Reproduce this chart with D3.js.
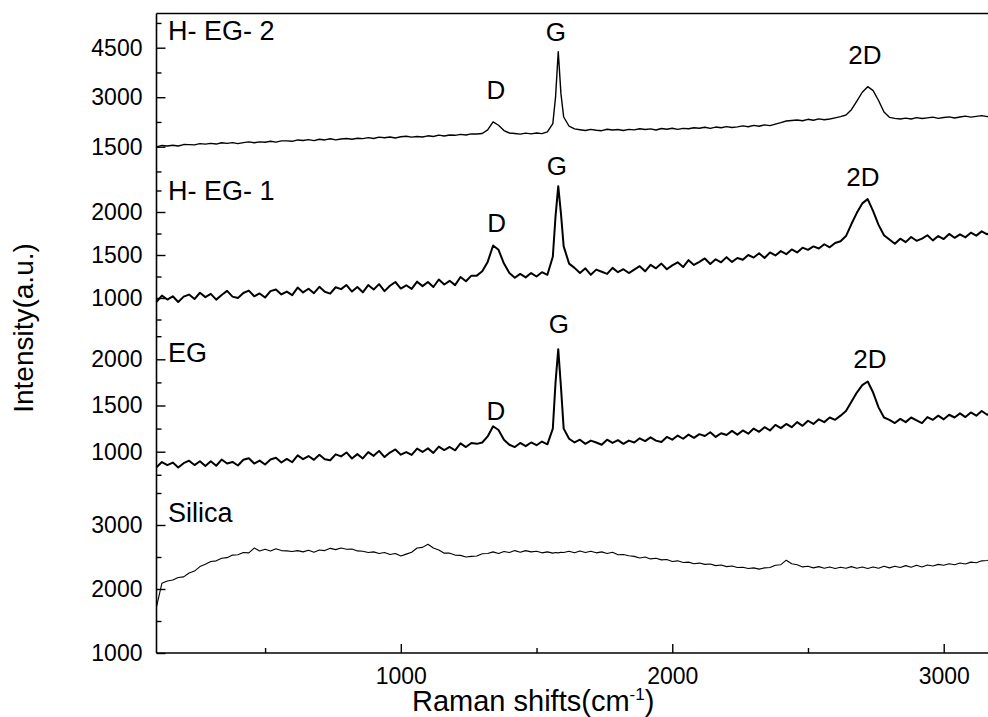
<!DOCTYPE html>
<html>
<head>
<meta charset="utf-8">
<script src="https://cdn.jsdelivr.net/npm/d3@7"></script>
<style>
	body { margin: 0; background: #fff; }
	svg { display: block; font-family: 'Liberation Sans', Arial, sans-serif; }
</style>
</head>
<body>
<div id="chart"></div>
<script>
// Raman shift (cm-1) sample positions, shared by all four spectra
const shifts = [
	100, 120, 140, 160, 180, 200, 220, 240, 260, 280,
	300, 320, 340, 360, 380, 400, 420, 440, 460, 480,
	500, 520, 540, 560, 580, 600, 620, 640, 660, 680,
	700, 720, 740, 760, 780, 800, 820, 840, 860, 880,
	900, 920, 940, 960, 980, 1000, 1020, 1040, 1060, 1080,
	1100, 1120, 1140, 1160, 1180, 1200, 1220, 1240, 1260, 1280,
	1300, 1320, 1340, 1360, 1380, 1400, 1420, 1440, 1460, 1480,
	1500, 1520, 1540, 1560, 1570, 1580, 1590, 1600, 1620, 1640,
	1660, 1680, 1700, 1720, 1740, 1760, 1780, 1800, 1820, 1840,
	1860, 1880, 1900, 1920, 1940, 1960, 1980, 2000, 2020, 2040,
	2060, 2080, 2100, 2120, 2140, 2160, 2180, 2200, 2220, 2240,
	2260, 2280, 2300, 2320, 2340, 2360, 2380, 2400, 2420, 2440,
	2460, 2480, 2500, 2520, 2540, 2560, 2580, 2600, 2620, 2640,
	2660, 2680, 2700, 2720, 2740, 2760, 2780, 2800, 2820, 2840,
	2860, 2880, 2900, 2920, 2940, 2960, 2980, 3000, 3020, 3040,
	3060, 3080, 3100, 3120, 3140, 3160, 3180, 3200
];

const hEg2 = [
	1495, 1538, 1521, 1544, 1522, 1565, 1563, 1556, 1594, 1577,
	1600, 1580, 1620, 1600, 1625, 1595, 1625, 1645, 1620, 1645,
	1635, 1667, 1638, 1675, 1677, 1663, 1705, 1687, 1713, 1685,
	1725, 1705, 1740, 1705, 1735, 1750, 1725, 1755, 1745, 1775,
	1750, 1790, 1770, 1795, 1765, 1800, 1815, 1790, 1810, 1795,
	1830, 1810, 1850, 1825, 1855, 1845, 1875, 1855, 1890, 1885,
	1900, 2010, 2250, 2150, 1990, 1915, 1900, 1880, 1910, 1890,
	1915, 1895, 1950, 2200, 3000, 4380, 3100, 2400, 2120, 2040,
	2015, 1990, 2025, 2000, 1985, 2030, 2005, 2020, 1990, 2025,
	2010, 2045, 2020, 2040, 2005, 2050, 2030, 2060, 2025, 2055,
	2045, 2075, 2060, 2090, 2055, 2095, 2075, 2110, 2080, 2100,
	2130, 2105, 2145, 2120, 2160, 2140, 2185, 2230, 2280, 2295,
	2310, 2285, 2330, 2300, 2345, 2315, 2340, 2375, 2410, 2460,
	2620, 2880, 3150, 3320, 3200, 2900, 2550, 2390, 2360, 2340,
	2365, 2340, 2380, 2355, 2375, 2395, 2360, 2385, 2405, 2370,
	2400, 2425, 2395, 2420, 2440, 2410, 2450, 2430
];

const hEg1 = [
	955, 1028, 982, 1020, 953, 1016, 1040, 988, 1061, 1010,
	1048, 981, 1035, 1083, 1016, 1000, 1058, 1086, 1020, 1053,
	1006, 1080, 1098, 1041, 1075, 1033, 1121, 1065, 1108, 1056,
	1130, 1073, 1051, 1125, 1103, 1151, 1075, 1128, 1066, 1150,
	1098, 1161, 1080, 1143, 1186, 1110, 1148, 1106, 1190, 1138,
	1187, 1128, 1215, 1157, 1200, 1150, 1245, 1195, 1260, 1260,
	1310, 1420, 1610, 1560, 1400, 1290, 1235, 1280, 1240, 1290,
	1250, 1300, 1270, 1480, 1950, 2300, 1980, 1600, 1400, 1350,
	1290, 1345, 1270, 1330, 1305, 1280, 1350, 1300, 1335, 1290,
	1330, 1370, 1310, 1385, 1345, 1400, 1335, 1380, 1415, 1360,
	1440, 1385, 1420, 1460, 1395, 1450, 1415, 1475, 1420, 1465,
	1445, 1500, 1470, 1520, 1465, 1530, 1495, 1545, 1510, 1565,
	1530, 1585, 1560, 1600, 1575, 1625, 1590, 1640, 1660, 1720,
	1860, 1990, 2100, 2150, 2010, 1850, 1730, 1680, 1630, 1690,
	1650, 1710, 1665, 1690, 1730, 1670, 1720, 1685, 1745, 1700,
	1740, 1705, 1760, 1725, 1775, 1740, 1785, 1750
];

const eg = [
	831, 888, 855, 882, 829, 876, 903, 855, 897, 844,
	896, 848, 915, 872, 889, 851, 913, 930, 872, 904,
	861, 915, 934, 883, 922, 886, 960, 919, 953, 912,
	966, 919, 907, 971, 949, 992, 926, 974, 927, 996,
	955, 1009, 942, 991, 1024, 968, 996, 965, 1033, 997,
	1036, 987, 1055, 1018, 1051, 1015, 1090, 1050, 1095, 1085,
	1100, 1165, 1275, 1235, 1130, 1075, 1050, 1095, 1060, 1100,
	1070, 1110, 1080, 1250, 1750, 2110, 1700, 1250, 1140, 1100,
	1130, 1085, 1120, 1100, 1075, 1130, 1095, 1125, 1085, 1120,
	1100, 1145, 1115, 1155, 1120, 1105, 1160, 1130, 1175, 1140,
	1185, 1150, 1190, 1170, 1210, 1160, 1200, 1180, 1225, 1185,
	1230, 1195, 1250, 1215, 1265, 1230, 1290, 1255, 1300, 1265,
	1320, 1280, 1335, 1300, 1350, 1320, 1370, 1345, 1390, 1440,
	1540, 1640, 1720, 1760, 1640, 1480, 1370, 1345, 1310, 1355,
	1320, 1370, 1340, 1310, 1375, 1345, 1390, 1350, 1400, 1370,
	1415, 1375, 1425, 1390, 1440, 1400, 1430, 1410
];

const silica = [
	1720, 2090, 2125, 2140, 2180, 2190, 2250, 2280, 2350, 2385,
	2430, 2440, 2480, 2490, 2530, 2535, 2570, 2565, 2640, 2595,
	2620, 2595, 2630, 2600, 2595, 2585, 2600, 2580, 2605, 2575,
	2610, 2600, 2635, 2615, 2640, 2620, 2625, 2595, 2590, 2570,
	2580, 2555, 2570, 2540, 2555, 2515, 2545, 2575, 2640, 2650,
	2700, 2640, 2610, 2560, 2560, 2530, 2525, 2500, 2510, 2515,
	2550, 2555, 2580, 2555, 2585, 2570, 2600, 2575, 2600, 2580,
	2590, 2565, 2580, 2560, 2570, 2565, 2575, 2570, 2590, 2565,
	2595, 2570, 2590, 2565, 2580, 2555, 2575, 2535, 2540, 2520,
	2510, 2485, 2500, 2470, 2480, 2455, 2460, 2430, 2440, 2415,
	2420, 2395, 2405, 2385, 2390, 2365, 2375, 2350, 2360, 2335,
	2340, 2320, 2330, 2310, 2330, 2335, 2370, 2380, 2450, 2395,
	2380, 2345, 2355, 2330, 2350, 2325, 2345, 2320, 2340, 2325,
	2350, 2325, 2345, 2320, 2345, 2325, 2355, 2330, 2355, 2335,
	2365, 2340, 2370, 2345, 2375, 2360, 2385, 2370, 2395, 2380,
	2405, 2390, 2420, 2410, 2440, 2445, 2470, 2460
];

const sampleNames = ['H- EG- 2', 'H- EG- 1', 'EG', 'Silica'];

// tick values
const xMajor = [1000, 2000, 3000];
const xMinor = [500, 1500, 2500];
const hEg2Major = [1500, 3000, 4500];
const hEg2Minor = [750, 2250, 3750, 5250];
const hEg1Major = [1000, 1500, 2000];
const hEg1Minor = [750, 1250, 1750, 2250];
const egMajor = [1000, 1500, 2000];
const egMinor = [750, 1250, 1750, 2250];
const silicaMajor = [1000, 2000, 3000];
const silicaMinor = [1500, 2500, 3500];

// peak annotations: [label, shift, intensity of label baseline]
const hEg2Peaks = [['D', 1350, 2945], ['G', 1571, 4712], ['2D', 2710, 4006]];
const hEg1Peaks = [['D', 1353, 1771], ['G', 1575, 2430], ['2D', 2702, 2302]];
const egPeaks = [['D', 1350, 1343], ['G', 1582, 2285], ['2D', 2728, 1906]];

const width = 988;
const height = 717;
const plotLeft = 156.5;
const plotTop = 13.5;
const plotBottom = 653;

const svg = d3
	.select('#chart')
	.append('svg')
	.attr('width', width)
	.attr('height', height);

const x = d3.scaleLinear().domain([100, 3200]).range([plotLeft, 998]);

// each stacked layer has its own intensity scale
const layers = [
	{ name: sampleNames[0], values: hEg2, domain: [1500, 4500], range: [146.7, 47.7], major: hEg2Major, minor: hEg2Minor, nameY: 40, stroke: 1.4, peaks: hEg2Peaks },
	{ name: sampleNames[1], values: hEg1, domain: [1000, 2000], range: [298, 212], major: hEg1Major, minor: hEg1Minor, nameY: 200, stroke: 2, peaks: hEg1Peaks },
	{ name: sampleNames[2], values: eg, domain: [1000, 2000], range: [451.7, 359.3], major: egMajor, minor: egMinor, nameY: 361.5, stroke: 2, peaks: egPeaks },
	{ name: sampleNames[3], values: silica, domain: [1000, 3000], range: [653, 525], major: silicaMajor, minor: silicaMinor, nameY: 521.5, stroke: 1.1, peaks: [] }
];

function styleAxis(g) {
	g.select('.domain').remove();
	g.selectAll('line').attr('stroke', '#000').attr('stroke-width', 1.4);
	g.selectAll('text')
		.attr('fill', '#000')
		.attr('font-size', 23)
		.attr('font-family', "'Liberation Sans', Arial, sans-serif");
}

layers.forEach((layer) => {
	const y = d3.scaleLinear().domain(layer.domain).range(layer.range);

	svg.append('g')
		.attr('transform', `translate(${plotLeft},0)`)
		.call(d3.axisLeft(y).tickValues(layer.major).tickSize(-9).tickPadding(14).tickFormat(d3.format('d')))
		.call(styleAxis);

	svg.append('g')
		.attr('transform', `translate(${plotLeft},0)`)
		.call(d3.axisLeft(y).tickValues(layer.minor).tickSize(-5).tickFormat(''))
		.call(styleAxis);

	const line = d3
		.line()
		.x((d) => x(d[0]))
		.y((d) => y(d[1]));

	svg.append('path')
		.datum(shifts.map((s, i) => [s, layer.values[i]]))
		.attr('fill', 'none')
		.attr('stroke', '#000')
		.attr('stroke-width', layer.stroke)
		.attr('stroke-linejoin', 'round')
		.attr('d', line);

	svg.append('text')
		.attr('x', 168)
		.attr('y', layer.nameY)
		.attr('font-size', 27)
		.text(layer.name);

	svg.selectAll(null)
		.data(layer.peaks)
		.enter()
		.append('text')
		.attr('x', (d) => x(d[1]))
		.attr('y', (d) => y(d[2]))
		.attr('text-anchor', 'middle')
		.attr('font-size', 26)
		.text((d) => d[0]);
});

// shared x axis
svg.append('g')
	.attr('transform', `translate(0,${plotBottom})`)
	.call(d3.axisBottom(x).tickValues(xMajor).tickSize(-9).tickPadding(15).tickFormat(d3.format('d')))
	.call(styleAxis);

svg.append('g')
	.attr('transform', `translate(0,${plotBottom})`)
	.call(d3.axisBottom(x).tickValues(xMinor).tickSize(-5).tickFormat(''))
	.call(styleAxis);

// frame: left axis, bottom axis, top border
svg.append('line')
	.attr('x1', plotLeft).attr('x2', plotLeft)
	.attr('y1', plotTop).attr('y2', plotBottom)
	.attr('stroke', '#000').attr('stroke-width', 1.6);

svg.append('line')
	.attr('x1', plotLeft).attr('x2', width)
	.attr('y1', plotBottom).attr('y2', plotBottom)
	.attr('stroke', '#000').attr('stroke-width', 1.6);

svg.append('line')
	.attr('x1', plotLeft).attr('x2', width)
	.attr('y1', plotTop).attr('y2', plotTop)
	.attr('stroke', '#000').attr('stroke-width', 1.6);

// axis titles
const xTitle = svg.append('text')
	.attr('x', 412)
	.attr('y', 711)
	.attr('font-size', 29);
xTitle.append('tspan').text('Raman shifts(cm');
xTitle.append('tspan').attr('dy', -11).attr('font-size', 17).text('-1');
xTitle.append('tspan').attr('dy', 11).text(')');

svg.append('text')
	.attr('transform', 'translate(33,328) rotate(-90)')
	.attr('text-anchor', 'middle')
	.attr('font-size', 28)
	.text('Intensity(a.u.)');
</script>
</body>
</html>
